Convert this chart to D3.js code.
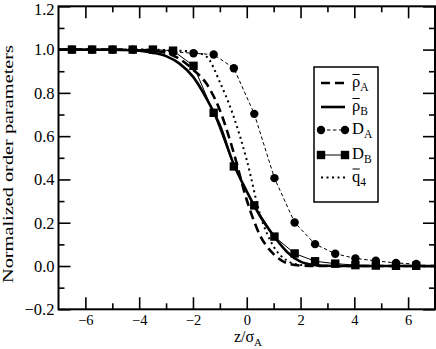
<!DOCTYPE html>
<html>
<head>
<meta charset="utf-8">
<script src="https://cdn.jsdelivr.net/npm/d3@7"></script>
<style>
  body { margin: 0; background: #fff; }
  svg { display: block; }
  svg text { font-family: 'Liberation Serif', 'Times New Roman', serif !important; fill: #000; }
</style>
</head>
<body>
<svg id="chart" width="436" height="349"></svg>
<script>
// DATA
// continuous profiles
const zCurve = [-7, -6, -5, -4, -3.5, -3, -2.5, -2, -1.5, -1, -0.5, 0, 0.5, 1, 1.5, 2, 2.5, 3, 3.5, 4, 5, 6, 7];
const rhoA = [1, 1, 1, 0.998, 0.994, 0.985, 0.957, 0.908, 0.843, 0.72, 0.53, 0.305, 0.14, 0.055, 0.013, 0.002, 0, 0, 0, 0, 0, 0, 0];
const rhoB = [1, 1, 0.999, 0.995, 0.986, 0.97, 0.935, 0.875, 0.775, 0.65, 0.475, 0.345, 0.23, 0.14, 0.065, 0.02, 0.005, 0.001, 0, 0, 0, 0, 0];
const q4 = [1, 1, 1, 1, 1, 0.998, 0.995, 0.99, 0.968, 0.85, 0.695, 0.49, 0.235, 0.09, 0.025, 0.005, 0.001, 0, 0, 0, 0, 0, 0];

// sampled profiles (markers)
const zD = [-6.5, -5.75, -4.99, -4.24, -3.49, -2.74, -1.98, -1.23, -0.48, 0.28, 1.03, 1.78, 2.54, 3.29, 4.04, 4.8, 5.55, 6.3];
const DA = [1, 1, 1, 1, 0.998, 0.99, 0.983, 0.977, 0.914, 0.703, 0.406, 0.201, 0.101, 0.057, 0.035, 0.024, 0.014, 0.009];
const DB = [1, 1, 1, 1, 1, 0.995, 0.925, 0.708, 0.46, 0.28, 0.136, 0.058, 0.022, 0.011, 0.004, 0.002, 0.001, 0.001];

const xMajor = [-6, -4, -2, 0, 2, 4, 6];
const xMinor = [-5, -3, -1, 1, 3, 5];
const yMajor = [-0.2, 0, 0.2, 0.4, 0.6, 0.8, 1.0, 1.2];
const yMinor = [-0.1, 0.1, 0.3, 0.5, 0.7, 0.9, 1.1];

// DIMENSIONS
const LEFT = 58.5, RIGHT = 435, TOP = 6.3, BOTTOM = 309.3;

const x = d3.scaleLinear().domain([-7, 7]).range([LEFT, RIGHT]);
const y = d3.scaleLinear().domain([-0.2, 1.2]).range([BOTTOM, TOP]);

const svg = d3.select("#chart");

// clip so curves stay in the frame
svg.append("clipPath").attr("id", "plotclip")
  .append("rect")
  .attr("x", LEFT).attr("y", TOP)
  .attr("width", RIGHT - LEFT).attr("height", BOTTOM - TOP);

// AXES (ticks point inward on all four sides)
const styleAxis = g => {
  g.select(".domain").remove();
  g.selectAll(".tick line").attr("stroke", "#000").attr("stroke-width", 1.6);
};

svg.append("g")
  .attr("transform", `translate(0,${BOTTOM})`)
  .call(d3.axisBottom(x).tickValues(xMajor).tickSize(-12).tickPadding(5).tickFormat(d3.format("d")))
  .call(styleAxis)
  .selectAll("text").attr("font-size", 14.5);
svg.append("g")
  .attr("transform", `translate(0,${BOTTOM})`)
  .call(d3.axisBottom(x).tickValues(xMinor).tickSize(-6).tickFormat(""))
  .call(styleAxis);
svg.append("g")
  .attr("transform", `translate(0,${TOP})`)
  .call(d3.axisTop(x).tickValues(xMajor).tickSize(-12).tickFormat(""))
  .call(styleAxis);
svg.append("g")
  .attr("transform", `translate(0,${TOP})`)
  .call(d3.axisTop(x).tickValues(xMinor).tickSize(-6).tickFormat(""))
  .call(styleAxis);

const yAxisG = svg.append("g")
  .attr("transform", `translate(${LEFT},0)`)
  .call(d3.axisLeft(y).tickValues(yMajor).tickSize(-12).tickPadding(4).tickFormat(d3.format(".1f")))
  .call(styleAxis);
yAxisG.selectAll("text").attr("font-size", 16.5);
// top label sits a little lower so it stays inside the picture
yAxisG.selectAll(".tick text").filter(d => d === 1.2).attr("dy", "0.5em");

svg.append("g")
  .attr("transform", `translate(${LEFT},0)`)
  .call(d3.axisLeft(y).tickValues(yMinor).tickSize(-6).tickFormat(""))
  .call(styleAxis);
svg.append("g")
  .attr("transform", `translate(${RIGHT},0)`)
  .call(d3.axisRight(y).tickValues(yMajor).tickSize(-12).tickFormat(""))
  .call(styleAxis);
svg.append("g")
  .attr("transform", `translate(${RIGHT},0)`)
  .call(d3.axisRight(y).tickValues(yMinor).tickSize(-6).tickFormat(""))
  .call(styleAxis);

// LINES
const plot = svg.append("g").attr("clip-path", "url(#plotclip)");

const smooth = d3.line().x(d => x(d[0])).y(d => y(d[1])).curve(d3.curveMonotoneX);
const straight = d3.line().x(d => x(d[0])).y(d => y(d[1]));
const pairs = (xs, ys) => xs.map((v, i) => [v, ys[i]]);

const series = [
  { key: "rhoA", pts: pairs(zCurve, rhoA), gen: smooth, width: 2.6, dash: "9,5" },
  { key: "rhoB", pts: pairs(zCurve, rhoB), gen: smooth, width: 2.6, dash: null },
  { key: "q4", pts: pairs(zCurve, q4), gen: smooth, width: 2, dash: "2,3.5" },
  { key: "DA", pts: pairs(zD, DA), gen: straight, width: 1, dash: "3.5,2.5", marker: "circle" },
  { key: "DB", pts: pairs(zD, DB), gen: straight, width: 1, dash: null, marker: "square" }
];

series.forEach(s => {
  plot.append("path")
    .attr("d", s.gen(s.pts))
    .attr("fill", "none")
    .attr("stroke", "#000")
    .attr("stroke-width", s.width)
    .attr("stroke-dasharray", s.dash);
});

const drawMarker = (g, type, cx, cy) => {
  if (type === "circle") {
    g.append("circle").attr("cx", cx).attr("cy", cy).attr("r", 4.2).attr("fill", "#000");
  } else {
    g.append("rect").attr("x", cx - 4.2).attr("y", cy - 4.2).attr("width", 8.4).attr("height", 8.4).attr("fill", "#000");
  }
};

series.filter(s => s.marker).forEach(s => {
  s.pts.forEach(p => drawMarker(plot, s.marker, x(p[0]), y(p[1])));
});

// FRAME
svg.append("rect")
  .attr("x", LEFT).attr("y", TOP)
  .attr("width", RIGHT - LEFT).attr("height", BOTTOM - TOP)
  .attr("fill", "none").attr("stroke", "#000").attr("stroke-width", 2);

// AXIS TITLES
const xt = svg.append("text")
  .attr("x", 248).attr("y", 342)
  .attr("text-anchor", "middle")
  .attr("font-size", 16);
xt.append("tspan").text("z/σ");
xt.append("tspan").attr("font-size", 11).attr("dy", 4).text("A");

svg.append("text")
  .attr("transform", "translate(13,164) rotate(-90)")
  .attr("text-anchor", "middle")
  .attr("font-size", 15)
  .attr("textLength", 238)
  .attr("lengthAdjust", "spacingAndGlyphs")
  .text("Normalized order parameters");

// LEGEND
const legend = svg.append("g");
legend.append("rect")
  .attr("x", 314).attr("y", 67).attr("width", 64).attr("height", 135)
  .attr("fill", "#fff").attr("stroke", "#000").attr("stroke-width", 1.5);

const legendRows = [
  { key: "rhoA", label: "ρ", sub: "A", bar: true, y: 83 },
  { key: "rhoB", label: "ρ", sub: "B", bar: true, y: 107 },
  { key: "DA", label: "D", sub: "A", bar: false, y: 130 },
  { key: "DB", label: "D", sub: "B", bar: false, y: 155 },
  { key: "q4", label: "q", sub: "4", bar: true, y: 177.5 }
];

legendRows.forEach(r => {
  const s = series.find(d => d.key === r.key);
  legend.append("line")
    .attr("x1", 321).attr("x2", 345)
    .attr("y1", r.y).attr("y2", r.y)
    .attr("stroke", "#000")
    .attr("stroke-width", s.width)
    .attr("stroke-dasharray", s.dash);
  if (s.marker) {
    drawMarker(legend, s.marker, 321, r.y);
    drawMarker(legend, s.marker, 345, r.y);
  }
  const t = legend.append("text")
    .attr("x", 352).attr("y", r.y + 4)
    .attr("font-size", 16.5);
  const main = t.append("tspan").text(r.label);
  t.append("tspan").attr("font-size", 11.5).attr("dy", 4).text(r.sub);
  if (r.bar) {
    const w = main.node().getComputedTextLength();
    legend.append("line")
      .attr("x1", 352.5).attr("x2", 352 + w - 0.5)
      .attr("y1", r.y - 8.5).attr("y2", r.y - 8.5)
      .attr("stroke", "#000").attr("stroke-width", 1);
  }
});
</script>
</body>
</html>
